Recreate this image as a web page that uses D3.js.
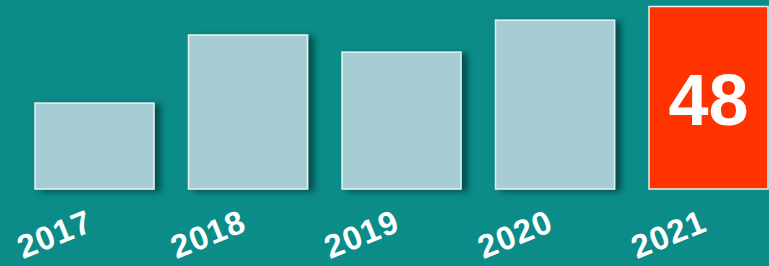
<!DOCTYPE html>
<html><head><meta charset="utf-8">
<script src="https://cdn.jsdelivr.net/npm/d3@7"></script>
<style>html,body{margin:0;padding:0;background:#0b8c88;overflow:hidden}</style>
</head><body>
<script>
const years = ["2017","2018","2019","2020","2021"];
const values = [22.6, 40.5, 36, 44.4, 48];
const highlight = "2021";
const highlightLabel = "48";

const W = 769, H = 266;
const svg = d3.select("body").append("svg").attr("width", W).attr("height", H);
svg.append("rect").attr("width", W).attr("height", H).attr("fill", "#0b8c88");

const defs = svg.append("defs");
const f = defs.append("filter").attr("id","sh").attr("x","-20%").attr("y","-20%").attr("width","150%").attr("height","150%");
f.append("feDropShadow").attr("dx",6).attr("dy",2).attr("stdDeviation",3)
  .attr("flood-color","#02403e").attr("flood-opacity",0.8);

const x = d3.scaleBand().domain(years).range([35, 768]).paddingInner(0.225).paddingOuter(0);
const y = d3.scaleLinear().domain([0, 48]).range([189, 6.5]);

svg.selectAll("rect.bar").data(years).join("rect")
  .attr("class","bar")
  .attr("x", d => x(d))
  .attr("y", (d,i) => y(values[i]))
  .attr("width", x.bandwidth())
  .attr("height", (d,i) => y(0) - y(values[i]))
  .attr("fill", d => d === highlight ? "#ff3300" : "#a6cdd3")
  .attr("stroke", "#e4f2f2")
  .attr("stroke-width", 1.5)
  .attr("filter", d => d === highlight ? null : "url(#sh)");

svg.append("text")
  .attr("x", x(highlight) + x.bandwidth()/2)
  .attr("y", 125)
  .attr("text-anchor","middle")
  .attr("font-family","Liberation Sans, Arial, sans-serif")
  .attr("font-weight","bold")
  .attr("font-size", 72)
  .attr("fill","#fff")
  .text(highlightLabel);

svg.selectAll("text.lab").data(years).join("text")
  .attr("class","lab")
  .attr("transform", d => `translate(${x(d) + x.bandwidth()/2 - 40},${234}) rotate(-22)`)
  .attr("text-anchor","middle")
  .attr("dy","0.35em")
  .attr("font-family","Liberation Sans, Arial, sans-serif")
  .attr("font-weight","bold")
  .attr("font-size", 33)
  .attr("letter-spacing", 1)
  .attr("fill","#fff")
  .text(d => d);
</script>
</body></html>
